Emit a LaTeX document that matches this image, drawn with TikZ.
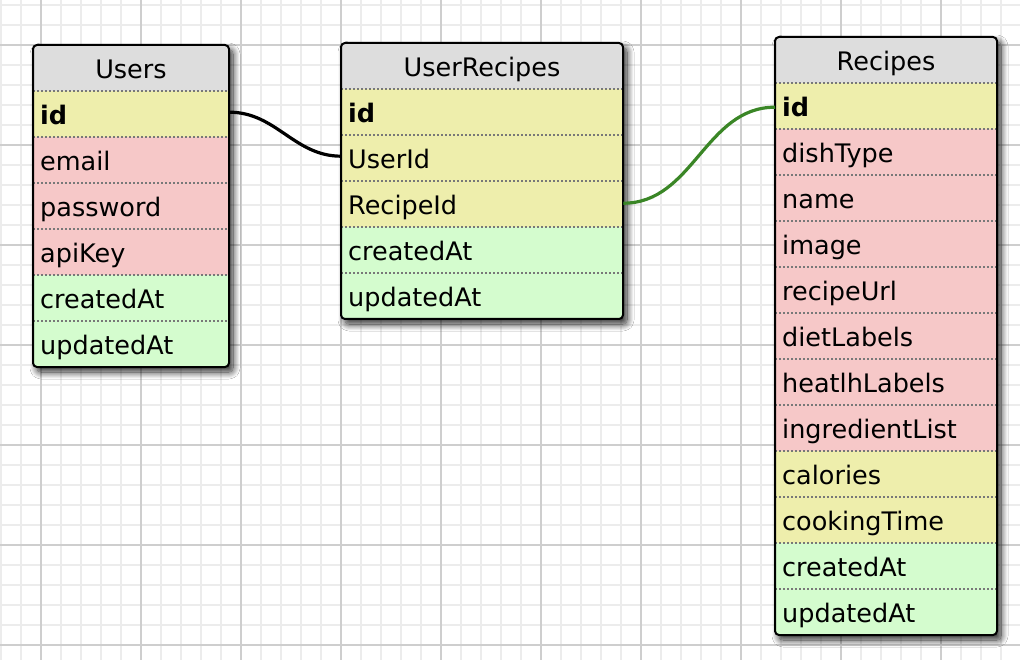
\documentclass[tikz,border=0pt]{standalone}
\usepackage{fontspec}
\setmainfont{DejaVu Sans}
\usetikzlibrary{shadows.blur}
\definecolor{hdr}{RGB}{221,221,221}
\definecolor{num}{RGB}{238,238,172}
\definecolor{chr}{RGB}{246,200,200}
\definecolor{dat}{RGB}{212,252,206}
\definecolor{gridminor}{RGB}{236,236,236}
\definecolor{gridmajor}{RGB}{206,206,206}
\definecolor{lnk}{RGB}{58,134,38}
\definecolor{sepcol}{RGB}{120,120,120}
\tikzset{
  erow/.style={anchor=north west, inner sep=0pt, minimum height=46pt, draw=none},
  etxt/.style={anchor=base west, inner sep=0pt},
  ettl/.style={anchor=base, inner sep=0pt},
  sep/.style={draw=sepcol, line width=1.6pt, dash pattern=on 2pt off 2pt},
  tblframe/.style={draw=black, line width=2pt, rounded corners=4pt},
  tblshadow/.style={fill=white, rounded corners=4pt, blur shadow={shadow xshift=4pt, shadow yshift=-5pt, shadow blur radius=7pt, shadow blur steps=14, shadow opacity=85}},
  conn/.style={line width=3.2pt, out=0, in=180},
}
\newcommand\erow[6]{%
  \node[erow, fill=#5, minimum width=#4 pt] (#1) at (#2,#3) {};
  \node[etxt] (#1-t) at (#2+7,#3+33.5) {#6};
  \draw[sep] (#1.north west) -- (#1.north east);}
\newcommand\ehead[5]{%
  \node[erow, fill=hdr, minimum width=#4 pt] (#1) at (#2,#3) {};
  \node[ettl] (#1-t) at (#2+#4/2,#3+34) {#5};}
\begin{document}
\begin{tikzpicture}[x=1pt, y=-1pt, font=\fontsize{25.5}{30}\selectfont]
\useasboundingbox (0,0) rectangle (1020,660);
\fill[white] (0,0) rectangle (1020,660);
% grid
\foreach \x in {1,21,...,1021} \draw[gridminor, line width=1.5pt] (\x,0) -- (\x,660);
\foreach \y in {5,25,...,665} \draw[gridminor, line width=1.5pt] (0,\y) -- (1020,\y);
\foreach \x in {41,141,...,1041} \draw[gridmajor, line width=1.5pt] (\x,0) -- (\x,660);
\foreach \y in {45,145,...,645} \draw[gridmajor, line width=1.5pt] (0,\y) -- (1020,\y);

% ---------- Users ----------
\path[tblshadow] (33,45) rectangle (229,367);
\begin{scope}
\clip[rounded corners=4pt] (33,45) rectangle (229,367);
\ehead{u-h}{33}{45}{196}{Users}
\erow{u-id}{33}{91}{196}{num}{\bfseries id}
\erow{u-email}{33}{137}{196}{chr}{email}
\erow{u-pw}{33}{183}{196}{chr}{password}
\erow{u-key}{33}{229}{196}{chr}{apiKey}
\erow{u-ca}{33}{275}{196}{dat}{createdAt}
\erow{u-ua}{33}{321}{196}{dat}{updatedAt}
\end{scope}
\path[tblframe] (33,45) rectangle (229,367);

% ---------- UserRecipes ----------
\path[tblshadow] (341,43) rectangle (623,319);
\begin{scope}
\clip[rounded corners=4pt] (341,43) rectangle (623,319);
\ehead{ur-h}{341}{43}{282}{UserRecipes}
\erow{ur-id}{341}{89}{282}{num}{\bfseries id}
\erow{ur-uid}{341}{135}{282}{num}{UserId}
\erow{ur-rid}{341}{181}{282}{num}{RecipeId}
\erow{ur-ca}{341}{227}{282}{dat}{createdAt}
\erow{ur-ua}{341}{273}{282}{dat}{updatedAt}
\end{scope}
\path[tblframe] (341,43) rectangle (623,319);

% ---------- Recipes ----------
\path[tblshadow] (775,37) rectangle (997,635);
\begin{scope}
\clip[rounded corners=4pt] (775,37) rectangle (997,635);
\ehead{r-h}{775}{37}{222}{Recipes}
\erow{r-id}{775}{83}{222}{num}{\bfseries id}
\erow{r-dt}{775}{129}{222}{chr}{dishType}
\erow{r-name}{775}{175}{222}{chr}{name}
\erow{r-img}{775}{221}{222}{chr}{image}
\erow{r-url}{775}{267}{222}{chr}{recipeUrl}
\erow{r-diet}{775}{313}{222}{chr}{dietLabels}
\erow{r-health}{775}{359}{222}{chr}{heatlhLabels}
\erow{r-ingr}{775}{405}{222}{chr}{ingredientList}
\erow{r-cal}{775}{451}{222}{num}{calories}
\erow{r-cook}{775}{497}{222}{num}{cookingTime}
\erow{r-ca}{775}{543}{222}{dat}{createdAt}
\erow{r-ua}{775}{589}{222}{dat}{updatedAt}
\end{scope}
\path[tblframe] (775,37) rectangle (997,635);

% ---------- connectors ----------
\draw[conn, black] ([yshift=2pt]u-id.east) to ([yshift=2pt]ur-uid.west);
\draw[conn, lnk] ([yshift=1pt]ur-rid.east) to ([yshift=-1pt]r-id.west);
\end{tikzpicture}
\end{document}
